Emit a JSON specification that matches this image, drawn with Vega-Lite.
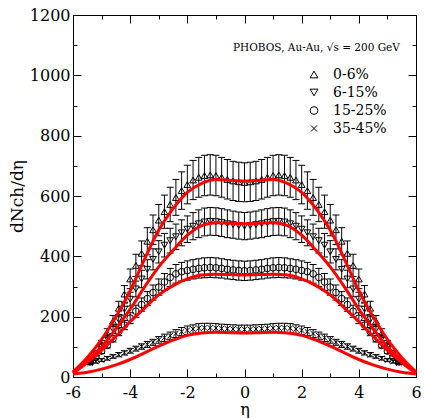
{
"$schema": "https://vega.github.io/schema/vega-lite/v6.json",
"width": 343, "height": 362,
"autosize": {"type": "none"},
"padding": {"left": 73, "top": 15, "right": 8, "bottom": 41},
"background": "white",
"config": {"view": {"stroke": "black", "strokeWidth": 1}, "font": "DejaVu Serif",
 "axis": {"labelFont": "DejaVu Serif", "titleFont": "DejaVu Serif"},
 "legend": {"labelFont": "DejaVu Serif", "titleFont": "DejaVu Serif"}},
"datasets": {
"pts": [
{"s":"0-6%","e":-5.4,"v":55,"l":50,"h":61},{"s":"0-6%","e":-5.2,"v":80,"l":72,"h":88},{"s":"0-6%","e":-5.0,"v":110,"l":99,"h":121},{"s":"0-6%","e":-4.8,"v":145,"l":131,"h":160},{"s":"0-6%","e":-4.6,"v":185,"l":167,"h":204},{"s":"0-6%","e":-4.4,"v":228,"l":205,"h":251},{"s":"0-6%","e":-4.2,"v":275,"l":248,"h":303},{"s":"0-6%","e":-4.0,"v":325,"l":293,"h":358},{"s":"0-6%","e":-3.8,"v":370,"l":333,"h":407},{"s":"0-6%","e":-3.6,"v":410,"l":369,"h":451},{"s":"0-6%","e":-3.4,"v":450,"l":405,"h":495},{"s":"0-6%","e":-3.2,"v":488,"l":439,"h":537},{"s":"0-6%","e":-3.0,"v":520,"l":468,"h":572},{"s":"0-6%","e":-2.8,"v":548,"l":493,"h":603},{"s":"0-6%","e":-2.6,"v":572,"l":515,"h":629},{"s":"0-6%","e":-2.4,"v":595,"l":536,"h":655},{"s":"0-6%","e":-2.2,"v":618,"l":556,"h":680},{"s":"0-6%","e":-2.0,"v":638,"l":574,"h":702},{"s":"0-6%","e":-1.8,"v":653,"l":588,"h":718},{"s":"0-6%","e":-1.6,"v":662,"l":596,"h":728},{"s":"0-6%","e":-1.4,"v":668,"l":601,"h":735},{"s":"0-6%","e":-1.2,"v":670,"l":603,"h":737},{"s":"0-6%","e":-1.0,"v":668,"l":601,"h":735},{"s":"0-6%","e":-0.8,"v":662,"l":596,"h":728},{"s":"0-6%","e":-0.6,"v":655,"l":590,"h":721},{"s":"0-6%","e":-0.4,"v":650,"l":585,"h":715},{"s":"0-6%","e":-0.2,"v":647,"l":582,"h":712},
{"s":"0-6%","e":0,"v":645,"l":581,"h":710},
{"s":"0-6%","e":0.2,"v":647,"l":582,"h":712},{"s":"0-6%","e":0.4,"v":650,"l":585,"h":715},{"s":"0-6%","e":0.6,"v":655,"l":590,"h":721},{"s":"0-6%","e":0.8,"v":662,"l":596,"h":728},{"s":"0-6%","e":1.0,"v":668,"l":601,"h":735},{"s":"0-6%","e":1.2,"v":670,"l":603,"h":737},{"s":"0-6%","e":1.4,"v":668,"l":601,"h":735},{"s":"0-6%","e":1.6,"v":662,"l":596,"h":728},{"s":"0-6%","e":1.8,"v":653,"l":588,"h":718},{"s":"0-6%","e":2.0,"v":638,"l":574,"h":702},{"s":"0-6%","e":2.2,"v":618,"l":556,"h":680},{"s":"0-6%","e":2.4,"v":595,"l":536,"h":655},{"s":"0-6%","e":2.6,"v":572,"l":515,"h":629},{"s":"0-6%","e":2.8,"v":548,"l":493,"h":603},{"s":"0-6%","e":3.0,"v":520,"l":468,"h":572},{"s":"0-6%","e":3.2,"v":488,"l":439,"h":537},{"s":"0-6%","e":3.4,"v":450,"l":405,"h":495},{"s":"0-6%","e":3.6,"v":410,"l":369,"h":451},{"s":"0-6%","e":3.8,"v":370,"l":333,"h":407},{"s":"0-6%","e":4.0,"v":325,"l":293,"h":358},{"s":"0-6%","e":4.2,"v":275,"l":248,"h":303},{"s":"0-6%","e":4.4,"v":228,"l":205,"h":251},{"s":"0-6%","e":4.6,"v":185,"l":167,"h":204},{"s":"0-6%","e":4.8,"v":145,"l":131,"h":160},{"s":"0-6%","e":5.0,"v":110,"l":99,"h":121},{"s":"0-6%","e":5.2,"v":80,"l":72,"h":88},{"s":"0-6%","e":5.4,"v":55,"l":50,"h":61},

{"s":"6-15%","e":-5.4,"v":56,"l":51,"h":61},{"s":"6-15%","e":-5.2,"v":77,"l":70,"h":84},{"s":"6-15%","e":-5.0,"v":100,"l":91,"h":109},{"s":"6-15%","e":-4.8,"v":128,"l":116,"h":140},{"s":"6-15%","e":-4.6,"v":158,"l":144,"h":172},{"s":"6-15%","e":-4.4,"v":190,"l":173,"h":207},{"s":"6-15%","e":-4.2,"v":225,"l":205,"h":245},{"s":"6-15%","e":-4.0,"v":258,"l":235,"h":281},{"s":"6-15%","e":-3.8,"v":292,"l":266,"h":318},{"s":"6-15%","e":-3.6,"v":325,"l":296,"h":354},{"s":"6-15%","e":-3.4,"v":357,"l":325,"h":389},{"s":"6-15%","e":-3.2,"v":390,"l":355,"h":425},{"s":"6-15%","e":-3.0,"v":415,"l":378,"h":452},{"s":"6-15%","e":-2.8,"v":437,"l":398,"h":476},{"s":"6-15%","e":-2.6,"v":452,"l":411,"h":493},{"s":"6-15%","e":-2.4,"v":465,"l":423,"h":507},{"s":"6-15%","e":-2.2,"v":478,"l":435,"h":521},{"s":"6-15%","e":-2.0,"v":490,"l":446,"h":534},{"s":"6-15%","e":-1.8,"v":500,"l":455,"h":545},{"s":"6-15%","e":-1.6,"v":508,"l":462,"h":554},{"s":"6-15%","e":-1.4,"v":514,"l":468,"h":560},{"s":"6-15%","e":-1.2,"v":516,"l":470,"h":562},{"s":"6-15%","e":-1.0,"v":515,"l":469,"h":561},{"s":"6-15%","e":-0.8,"v":512,"l":466,"h":558},{"s":"6-15%","e":-0.6,"v":508,"l":462,"h":554},{"s":"6-15%","e":-0.4,"v":505,"l":460,"h":550},{"s":"6-15%","e":-0.2,"v":502,"l":457,"h":547},
{"s":"6-15%","e":0,"v":500,"l":455,"h":545},
{"s":"6-15%","e":0.2,"v":502,"l":457,"h":547},{"s":"6-15%","e":0.4,"v":505,"l":460,"h":550},{"s":"6-15%","e":0.6,"v":508,"l":462,"h":554},{"s":"6-15%","e":0.8,"v":512,"l":466,"h":558},{"s":"6-15%","e":1.0,"v":515,"l":469,"h":561},{"s":"6-15%","e":1.2,"v":516,"l":470,"h":562},{"s":"6-15%","e":1.4,"v":514,"l":468,"h":560},{"s":"6-15%","e":1.6,"v":508,"l":462,"h":554},{"s":"6-15%","e":1.8,"v":500,"l":455,"h":545},{"s":"6-15%","e":2.0,"v":490,"l":446,"h":534},{"s":"6-15%","e":2.2,"v":478,"l":435,"h":521},{"s":"6-15%","e":2.4,"v":465,"l":423,"h":507},{"s":"6-15%","e":2.6,"v":452,"l":411,"h":493},{"s":"6-15%","e":2.8,"v":437,"l":398,"h":476},{"s":"6-15%","e":3.0,"v":415,"l":378,"h":452},{"s":"6-15%","e":3.2,"v":390,"l":355,"h":425},{"s":"6-15%","e":3.4,"v":357,"l":325,"h":389},{"s":"6-15%","e":3.6,"v":325,"l":296,"h":354},{"s":"6-15%","e":3.8,"v":292,"l":266,"h":318},{"s":"6-15%","e":4.0,"v":258,"l":235,"h":281},{"s":"6-15%","e":4.2,"v":225,"l":205,"h":245},{"s":"6-15%","e":4.4,"v":190,"l":173,"h":207},{"s":"6-15%","e":4.6,"v":158,"l":144,"h":172},{"s":"6-15%","e":4.8,"v":128,"l":116,"h":140},{"s":"6-15%","e":5.0,"v":100,"l":91,"h":109},{"s":"6-15%","e":5.2,"v":77,"l":70,"h":84},{"s":"6-15%","e":5.4,"v":56,"l":51,"h":61},

{"s":"15-25%","e":-5.4,"v":50,"l":46,"h":55},{"s":"15-25%","e":-5.2,"v":67,"l":61,"h":73},{"s":"15-25%","e":-5.0,"v":86,"l":78,"h":94},{"s":"15-25%","e":-4.8,"v":105,"l":96,"h":114},{"s":"15-25%","e":-4.6,"v":127,"l":116,"h":138},{"s":"15-25%","e":-4.4,"v":150,"l":137,"h":164},{"s":"15-25%","e":-4.2,"v":172,"l":157,"h":187},{"s":"15-25%","e":-4.0,"v":195,"l":177,"h":213},{"s":"15-25%","e":-3.8,"v":218,"l":198,"h":238},{"s":"15-25%","e":-3.6,"v":240,"l":218,"h":262},{"s":"15-25%","e":-3.4,"v":260,"l":237,"h":283},{"s":"15-25%","e":-3.2,"v":280,"l":255,"h":305},{"s":"15-25%","e":-3.0,"v":298,"l":271,"h":325},{"s":"15-25%","e":-2.8,"v":315,"l":287,"h":343},{"s":"15-25%","e":-2.6,"v":330,"l":300,"h":360},{"s":"15-25%","e":-2.4,"v":342,"l":311,"h":373},{"s":"15-25%","e":-2.2,"v":349,"l":318,"h":380},{"s":"15-25%","e":-2.0,"v":353,"l":321,"h":385},{"s":"15-25%","e":-1.8,"v":357,"l":325,"h":389},{"s":"15-25%","e":-1.6,"v":360,"l":328,"h":392},{"s":"15-25%","e":-1.4,"v":362,"l":329,"h":395},{"s":"15-25%","e":-1.2,"v":363,"l":330,"h":396},{"s":"15-25%","e":-1.0,"v":362,"l":329,"h":395},{"s":"15-25%","e":-0.8,"v":360,"l":328,"h":392},{"s":"15-25%","e":-0.6,"v":357,"l":325,"h":389},{"s":"15-25%","e":-0.4,"v":355,"l":323,"h":387},{"s":"15-25%","e":-0.2,"v":353,"l":321,"h":385},
{"s":"15-25%","e":0,"v":352,"l":320,"h":384},
{"s":"15-25%","e":0.2,"v":353,"l":321,"h":385},{"s":"15-25%","e":0.4,"v":355,"l":323,"h":387},{"s":"15-25%","e":0.6,"v":357,"l":325,"h":389},{"s":"15-25%","e":0.8,"v":360,"l":328,"h":392},{"s":"15-25%","e":1.0,"v":362,"l":329,"h":395},{"s":"15-25%","e":1.2,"v":363,"l":330,"h":396},{"s":"15-25%","e":1.4,"v":362,"l":329,"h":395},{"s":"15-25%","e":1.6,"v":360,"l":328,"h":392},{"s":"15-25%","e":1.8,"v":357,"l":325,"h":389},{"s":"15-25%","e":2.0,"v":353,"l":321,"h":385},{"s":"15-25%","e":2.2,"v":349,"l":318,"h":380},{"s":"15-25%","e":2.4,"v":342,"l":311,"h":373},{"s":"15-25%","e":2.6,"v":330,"l":300,"h":360},{"s":"15-25%","e":2.8,"v":315,"l":287,"h":343},{"s":"15-25%","e":3.0,"v":298,"l":271,"h":325},{"s":"15-25%","e":3.2,"v":280,"l":255,"h":305},{"s":"15-25%","e":3.4,"v":260,"l":237,"h":283},{"s":"15-25%","e":3.6,"v":240,"l":218,"h":262},{"s":"15-25%","e":3.8,"v":218,"l":198,"h":238},{"s":"15-25%","e":4.0,"v":195,"l":177,"h":213},{"s":"15-25%","e":4.2,"v":172,"l":157,"h":187},{"s":"15-25%","e":4.4,"v":150,"l":137,"h":164},{"s":"15-25%","e":4.6,"v":127,"l":116,"h":138},{"s":"15-25%","e":4.8,"v":105,"l":96,"h":114},{"s":"15-25%","e":5.0,"v":86,"l":78,"h":94},{"s":"15-25%","e":5.2,"v":67,"l":61,"h":73},{"s":"15-25%","e":5.4,"v":50,"l":46,"h":55},

{"s":"35-45%","e":-5.4,"v":46,"l":42,"h":50},{"s":"35-45%","e":-5.2,"v":51,"l":46,"h":56},{"s":"35-45%","e":-5.0,"v":56,"l":51,"h":61},{"s":"35-45%","e":-4.8,"v":62,"l":56,"h":68},{"s":"35-45%","e":-4.6,"v":68,"l":62,"h":74},{"s":"35-45%","e":-4.4,"v":74,"l":67,"h":81},{"s":"35-45%","e":-4.2,"v":80,"l":73,"h":87},{"s":"35-45%","e":-4.0,"v":87,"l":79,"h":95},{"s":"35-45%","e":-3.8,"v":94,"l":86,"h":102},{"s":"35-45%","e":-3.6,"v":101,"l":92,"h":110},{"s":"35-45%","e":-3.4,"v":108,"l":98,"h":118},{"s":"35-45%","e":-3.2,"v":115,"l":105,"h":125},{"s":"35-45%","e":-3.0,"v":123,"l":112,"h":134},{"s":"35-45%","e":-2.8,"v":130,"l":118,"h":142},{"s":"35-45%","e":-2.6,"v":137,"l":125,"h":149},{"s":"35-45%","e":-2.4,"v":144,"l":131,"h":157},{"s":"35-45%","e":-2.2,"v":150,"l":137,"h":164},{"s":"35-45%","e":-2.0,"v":155,"l":141,"h":169},{"s":"35-45%","e":-1.8,"v":159,"l":145,"h":173},{"s":"35-45%","e":-1.6,"v":162,"l":147,"h":177},{"s":"35-45%","e":-1.4,"v":163,"l":148,"h":178},{"s":"35-45%","e":-1.2,"v":163,"l":148,"h":178},{"s":"35-45%","e":-1.0,"v":162,"l":147,"h":177},{"s":"35-45%","e":-0.8,"v":161,"l":147,"h":175},{"s":"35-45%","e":-0.6,"v":160,"l":146,"h":174},{"s":"35-45%","e":-0.4,"v":159,"l":145,"h":173},{"s":"35-45%","e":-0.2,"v":158,"l":144,"h":172},
{"s":"35-45%","e":0,"v":158,"l":144,"h":172},
{"s":"35-45%","e":0.2,"v":158,"l":144,"h":172},{"s":"35-45%","e":0.4,"v":159,"l":145,"h":173},{"s":"35-45%","e":0.6,"v":160,"l":146,"h":174},{"s":"35-45%","e":0.8,"v":161,"l":147,"h":175},{"s":"35-45%","e":1.0,"v":162,"l":147,"h":177},{"s":"35-45%","e":1.2,"v":163,"l":148,"h":178},{"s":"35-45%","e":1.4,"v":163,"l":148,"h":178},{"s":"35-45%","e":1.6,"v":162,"l":147,"h":177},{"s":"35-45%","e":1.8,"v":159,"l":145,"h":173},{"s":"35-45%","e":2.0,"v":155,"l":141,"h":169},{"s":"35-45%","e":2.2,"v":150,"l":137,"h":164},{"s":"35-45%","e":2.4,"v":144,"l":131,"h":157},{"s":"35-45%","e":2.6,"v":137,"l":125,"h":149},{"s":"35-45%","e":2.8,"v":130,"l":118,"h":142},{"s":"35-45%","e":3.0,"v":123,"l":112,"h":134},{"s":"35-45%","e":3.2,"v":115,"l":105,"h":125},{"s":"35-45%","e":3.4,"v":108,"l":98,"h":118},{"s":"35-45%","e":3.6,"v":101,"l":92,"h":110},{"s":"35-45%","e":3.8,"v":94,"l":86,"h":102},{"s":"35-45%","e":4.0,"v":87,"l":79,"h":95},{"s":"35-45%","e":4.2,"v":80,"l":73,"h":87},{"s":"35-45%","e":4.4,"v":74,"l":67,"h":81},{"s":"35-45%","e":4.6,"v":68,"l":62,"h":74},{"s":"35-45%","e":4.8,"v":62,"l":56,"h":68},{"s":"35-45%","e":5.0,"v":56,"l":51,"h":61},{"s":"35-45%","e":5.2,"v":51,"l":46,"h":56},{"s":"35-45%","e":5.4,"v":46,"l":42,"h":50}
],
"fit": [
{"s":"A","e":-6,"v":17},{"s":"A","e":-5.5,"v":65},{"s":"A","e":-5,"v":125},{"s":"A","e":-4.5,"v":200},{"s":"A","e":-4,"v":286},{"s":"A","e":-3.5,"v":390},{"s":"A","e":-3,"v":487},{"s":"A","e":-2.5,"v":558},{"s":"A","e":-2,"v":612},{"s":"A","e":-1.5,"v":642},{"s":"A","e":-1,"v":655},{"s":"A","e":-0.5,"v":652},{"s":"A","e":0,"v":650},{"s":"A","e":0.5,"v":652},{"s":"A","e":1,"v":655},{"s":"A","e":1.5,"v":642},{"s":"A","e":2,"v":612},{"s":"A","e":2.5,"v":558},{"s":"A","e":3,"v":487},{"s":"A","e":3.5,"v":390},{"s":"A","e":4,"v":286},{"s":"A","e":4.5,"v":200},{"s":"A","e":5,"v":125},{"s":"A","e":5.5,"v":65},{"s":"A","e":6,"v":17},
{"s":"B","e":-6,"v":15},{"s":"B","e":-5.5,"v":55},{"s":"B","e":-5,"v":100},{"s":"B","e":-4.5,"v":160},{"s":"B","e":-4,"v":225},{"s":"B","e":-3.5,"v":298},{"s":"B","e":-3,"v":365},{"s":"B","e":-2.5,"v":420},{"s":"B","e":-2,"v":470},{"s":"B","e":-1.5,"v":502},{"s":"B","e":-1,"v":511},{"s":"B","e":-0.5,"v":510},{"s":"B","e":0,"v":508},{"s":"B","e":0.5,"v":510},{"s":"B","e":1,"v":511},{"s":"B","e":1.5,"v":502},{"s":"B","e":2,"v":470},{"s":"B","e":2.5,"v":420},{"s":"B","e":3,"v":365},{"s":"B","e":3.5,"v":298},{"s":"B","e":4,"v":225},{"s":"B","e":4.5,"v":160},{"s":"B","e":5,"v":100},{"s":"B","e":5.5,"v":55},{"s":"B","e":6,"v":15},
{"s":"C","e":-6,"v":12},{"s":"C","e":-5.5,"v":48},{"s":"C","e":-5,"v":88},{"s":"C","e":-4.5,"v":135},{"s":"C","e":-4,"v":183},{"s":"C","e":-3.5,"v":228},{"s":"C","e":-3,"v":272},{"s":"C","e":-2.5,"v":303},{"s":"C","e":-2,"v":325},{"s":"C","e":-1.5,"v":338},{"s":"C","e":-1,"v":341},{"s":"C","e":-0.5,"v":340},{"s":"C","e":0,"v":338},{"s":"C","e":0.5,"v":340},{"s":"C","e":1,"v":341},{"s":"C","e":1.5,"v":338},{"s":"C","e":2,"v":325},{"s":"C","e":2.5,"v":303},{"s":"C","e":3,"v":272},{"s":"C","e":3.5,"v":228},{"s":"C","e":4,"v":183},{"s":"C","e":4.5,"v":135},{"s":"C","e":5,"v":88},{"s":"C","e":5.5,"v":48},{"s":"C","e":6,"v":12},
{"s":"D","e":-6,"v":10},{"s":"D","e":-5.5,"v":16},{"s":"D","e":-5,"v":26},{"s":"D","e":-4.5,"v":40},{"s":"D","e":-4,"v":58},{"s":"D","e":-3.5,"v":80},{"s":"D","e":-3,"v":102},{"s":"D","e":-2.5,"v":122},{"s":"D","e":-2,"v":138},{"s":"D","e":-1.5,"v":146},{"s":"D","e":-1,"v":148},{"s":"D","e":-0.5,"v":147},{"s":"D","e":0,"v":146},{"s":"D","e":0.5,"v":147},{"s":"D","e":1,"v":148},{"s":"D","e":1.5,"v":146},{"s":"D","e":2,"v":138},{"s":"D","e":2.5,"v":122},{"s":"D","e":3,"v":102},{"s":"D","e":3.5,"v":80},{"s":"D","e":4,"v":58},{"s":"D","e":4.5,"v":40},{"s":"D","e":5,"v":26},{"s":"D","e":5.5,"v":16},{"s":"D","e":6,"v":10}
]
},
"layer": [
{"data": {"name": "pts"},
 "mark": {"type": "rule", "color": "black", "strokeWidth": 1},
 "encoding": {
  "x": {"field": "e", "type": "quantitative", "scale": {"domain": [-6, 6], "nice": false, "zero": false},
   "axis": {"orient": "bottom", "values": [-6,-5,-4,-3,-2,-1,0,1,2,3,4,5,6],
    "labelExpr": "datum.value % 2 == 0 ? toString(datum.value) : ''",
    "tickSize": {"condition": {"test": "datum.value % 2 == 0", "value": -8}, "value": -4},
    "tickColor": "black", "tickWidth": 1, "domainColor": "black", "domainWidth": 1, "grid": false,
    "labelFontSize": 16, "labelColor": "black", "labelFlush": false, "labelOverlap": false, "labelBound": false, "labelPadding": 15,
    "title": "η", "titleFontSize": 16, "titleFontWeight": "normal", "titleColor": "black", "titlePadding": -3}},
  "y": {"field": "l", "type": "quantitative", "scale": {"domain": [0, 1200], "nice": false},
   "axis": {"orient": "left", "values": [0,100,200,300,400,500,600,700,800,900,1000,1100,1200],
    "labelExpr": "datum.value % 200 == 0 ? toString(datum.value) : ''",
    "tickSize": {"condition": {"test": "datum.value % 200 == 0", "value": -8}, "value": -4},
    "tickColor": "black", "tickWidth": 1, "domainColor": "black", "domainWidth": 1, "grid": false,
    "labelFontSize": 16, "labelColor": "black", "labelFlush": false, "labelOverlap": false, "labelBound": false, "labelPadding": 11,
    "title": "dNch/dη", "titleFontSize": 17, "titleFontWeight": "normal", "titleColor": "black", "titlePadding": 3}},
  "y2": {"field": "h"}}},
{"data": {"name": "pts"},
 "mark": {"type": "tick", "orient": "horizontal", "size": 7, "thickness": 1, "color": "black", "opacity": 1},
 "encoding": {"x": {"field": "e", "type": "quantitative", "axis": null}, "y": {"field": "l", "type": "quantitative", "axis": null}}},
{"data": {"name": "pts"},
 "mark": {"type": "tick", "orient": "horizontal", "size": 7, "thickness": 1, "color": "black", "opacity": 1},
 "encoding": {"x": {"field": "e", "type": "quantitative", "axis": null}, "y": {"field": "h", "type": "quantitative", "axis": null}}},
{"data": {"name": "pts"},
 "mark": {"type": "point", "filled": false, "color": "black", "strokeWidth": 1, "size": 45, "opacity": 1},
 "encoding": {"x": {"field": "e", "type": "quantitative", "axis": null}, "y": {"field": "v", "type": "quantitative", "axis": null},
  "shape": {"field": "s", "type": "nominal",
   "scale": {"domain": ["0-6%", "6-15%", "15-25%", "35-45%"], "range": ["triangle-up", "triangle-down", "circle", "M-0.8,-0.8L0.8,0.8M-0.8,0.8L0.8,-0.8"]},
   "legend": {"orient": "none", "legendX": 160, "legendY": 28, "title": "PHOBOS, Au-Au, √s = 200 GeV",
    "titleFontSize": 10.5, "titleFontWeight": "normal", "titleColor": "black", "titlePadding": 14,
    "labelFontSize": 14, "labelColor": "black", "symbolSize": 60, "symbolStrokeWidth": 1, "symbolStrokeColor": "black",
    "rowPadding": 4, "symbolOffset": 74, "labelOffset": 12}}}},
{"data": {"name": "fit"},
 "mark": {"type": "line", "color": "red", "strokeWidth": 3, "interpolate": "monotone"},
 "encoding": {
  "x": {"field": "e", "type": "quantitative",
   "axis": {"orient": "top", "values": [-6,-5,-4,-3,-2,-1,0,1,2,3,4,5,6], "labels": false, "title": null, "grid": false,
    "tickSize": {"condition": {"test": "datum.value % 2 == 0", "value": -8}, "value": -4},
    "tickColor": "black", "domainColor": "black"}},
  "y": {"field": "v", "type": "quantitative",
   "axis": {"orient": "right", "values": [0,100,200,300,400,500,600,700,800,900,1000,1100,1200], "labels": false, "title": null, "grid": false,
    "tickSize": {"condition": {"test": "datum.value % 200 == 0", "value": -8}, "value": -4},
    "tickColor": "black", "domainColor": "black"}},
  "detail": {"field": "s"}}}
],
"resolve": {"axis": {"x": "independent", "y": "independent"}}
}
